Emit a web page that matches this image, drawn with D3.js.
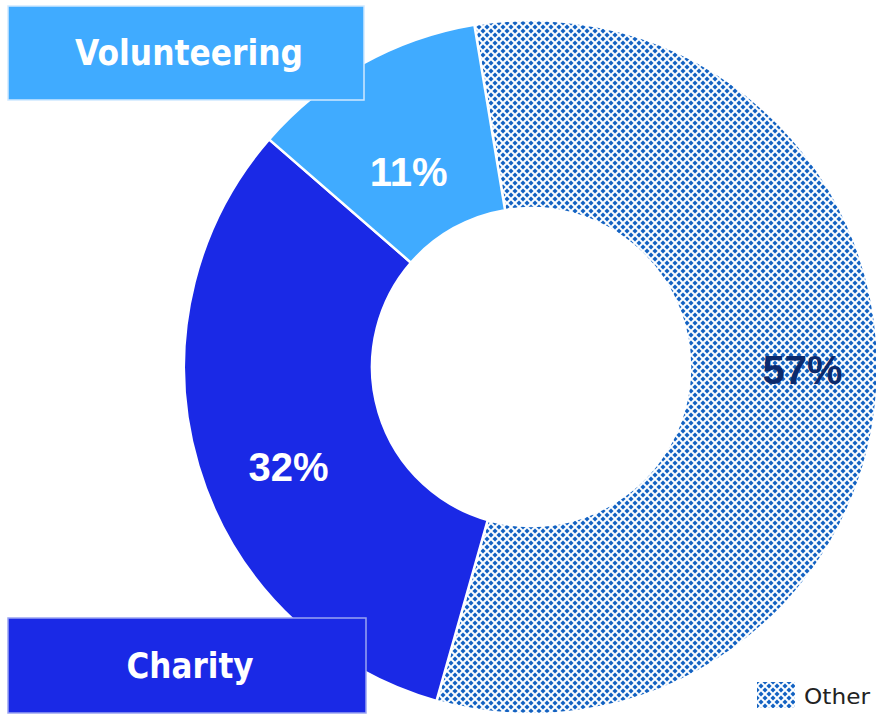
<!DOCTYPE html>
<html>
<head>
<meta charset="utf-8">
<script src="https://cdn.jsdelivr.net/npm/d3@7"></script>
<style>
  html, body { margin: 0; padding: 0; background: #fff; }
  svg { display: block; }
</style>
</head>
<body>
<svg id="chart" width="876" height="714"></svg>
<script>
// Share of giving, by type
const categories = ["Other", "Charity", "Volunteering"];
const values = [57, 32, 11];
const valueLabels = ["57%", "32%", "11%"];
const fills = ["url(#checker)", "#1a29e6", "#40abff"];
const labelColors = ["#0c2a6c", "#ffffff", "#ffffff"];
// label nudges relative to each slice centroid
const labelNudge = [[19, -12], [0, 27], [1, 25]];

const svg = d3.select("#chart");
const cx = 531, cy = 367;
const rOuter = 347, rInner = 159;

// diamond-lattice pattern fill for "Other"
const defs = svg.append("defs");
const tile = 8;
const pat = defs.append("pattern")
  .attr("id", "checker")
  .attr("patternUnits", "userSpaceOnUse")
  .attr("width", tile).attr("height", tile);
pat.append("rect").attr("width", tile).attr("height", tile).attr("fill", "#ffffff");
const centres = [[0,0],[8,0],[0,8],[8,8],[4,4]];
const dots = [];
for (let py = 0; py < tile; py++) {
  for (let px = 0; px < tile; px++) {
    const d = d3.min(centres, c => Math.abs(px + 0.5 - c[0]) + Math.abs(py + 0.5 - c[1]));
    if (d <= 2) dots.push({ x: px, y: py, tone: d <= 1 ? "#1560bd" : "#2a74cc" });
    else if (d <= 3) dots.push({ x: px, y: py, tone: "#d6e5f6" });
  }
}
pat.selectAll("rect.c").data(dots).join("rect")
  .attr("class", "c")
  .attr("x", d => d.x).attr("y", d => d.y)
  .attr("width", 1).attr("height", 1)
  .attr("fill", d => d.tone);

const data = categories.map((c, i) => ({ category: c, value: values[i], label: valueLabels[i], i }));

const startDeg = -9.4;
const pie = d3.pie()
  .sort(null)
  .value(d => d.value)
  .startAngle(startDeg * Math.PI / 180)
  .endAngle((startDeg + 360) * Math.PI / 180);

const arc = d3.arc().innerRadius(rInner).outerRadius(rOuter);

const g = svg.append("g").attr("transform", `translate(${cx},${cy})`);
const arcs = pie(data);

g.selectAll("path.slice").data(arcs).join("path")
  .attr("class", "slice")
  .attr("d", arc)
  .attr("fill", d => fills[d.data.i])
  .attr("stroke", "#ffffff")
  .attr("stroke-width", 2.5)
  .attr("stroke-linejoin", "miter");

g.selectAll("text.pct").data(arcs).join("text")
  .attr("class", "pct")
  .attr("x", d => arc.centroid(d)[0] + labelNudge[d.data.i][0])
  .attr("y", d => arc.centroid(d)[1] + labelNudge[d.data.i][1])
  .attr("dy", "0.36em")
  .attr("text-anchor", "middle")
  .attr("font-family", "'Liberation Sans', Arial, sans-serif")
  .attr("font-weight", "bold")
  .attr("font-size", 40)
  .attr("fill", d => labelColors[d.data.i])
  .text(d => d.data.label);

// category callout boxes
const boxes = [
  { text: "Volunteering", fill: "#40abff", stroke: "#cfe9ff", x: 8, y: 6, w: 356, h: 94, tw: 228 },
  { text: "Charity", fill: "#1a29e6", stroke: "#9aa4f2", x: 8, y: 618, w: 358, h: 95, tw: 127 }
];
const bg = svg.selectAll("g.box").data(boxes).join("g").attr("class", "box");
bg.append("rect")
  .attr("x", d => d.x).attr("y", d => d.y)
  .attr("width", d => d.w).attr("height", d => d.h)
  .attr("fill", d => d.fill)
  .attr("stroke", d => d.stroke)
  .attr("stroke-width", 1.5);
bg.append("text")
  .attr("x", d => d.x + d.w / 2 + 3)
  .attr("y", d => d.y + d.h / 2 + 12)
  .attr("text-anchor", "middle")
  .attr("font-family", "'DejaVu Sans', sans-serif")
  .attr("font-weight", "bold")
  .attr("font-size", 35)
  .attr("textLength", d => d.tw)
  .attr("lengthAdjust", "spacingAndGlyphs")
  .attr("fill", "#ffffff")
  .text(d => d.text);

// legend
const lg = svg.append("g").attr("transform", "translate(757,682)");
lg.append("rect").attr("width", 38).attr("height", 26).attr("fill", "url(#checker)");
lg.append("text")
  .attr("x", 47).attr("y", 22)
  .attr("font-family", "'DejaVu Sans', sans-serif")
  .attr("font-size", 21)
  .attr("textLength", 66)
  .attr("lengthAdjust", "spacingAndGlyphs")
  .attr("fill", "#222")
  .text(categories[0]);
</script>
</body>
</html>
